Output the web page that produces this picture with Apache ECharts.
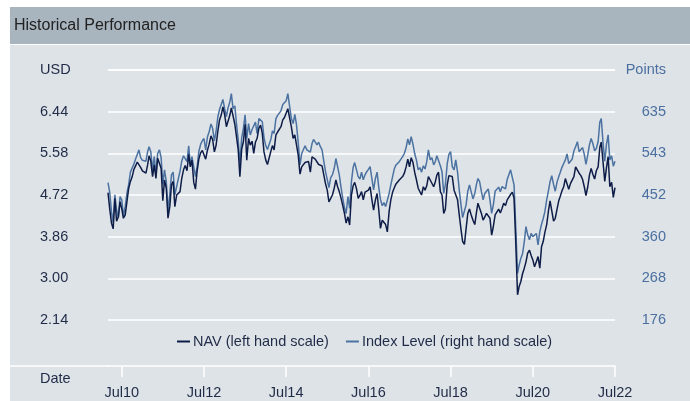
<!DOCTYPE html>
<html><head><meta charset="utf-8">
<script src="https://cdn.jsdelivr.net/npm/echarts@6/dist/echarts.min.js"></script>
<style>html,body{margin:0;padding:0;background:#fff}#c{width:690px;height:401px}</style>
</head><body><div id="c"></div>
<script>
// Semi-monthly observations (1st and 16th of each month) starting March 2010
const startYear = 2010, startMonth = 2; // March (0-based)
const navValues = [
4.77,4.44,4.14,4.02,4.65,4.18,4.27,4.58,4.44,4.24,
4.31,4.58,4.86,5.00,5.09,5.24,5.32,5.40,5.42,5.29,
5.22,5.18,5.17,5.34,5.53,5.42,5.10,5.34,5.06,5.48,
5.46,5.27,4.60,5.03,4.86,4.24,4.48,4.93,5.00,4.48,
4.72,4.72,4.79,5.06,5.24,5.33,5.22,5.56,5.30,5.44,
4.98,4.84,5.22,5.46,5.59,5.64,5.67,5.46,5.65,5.77,
5.94,5.86,5.61,5.74,6.04,6.27,6.37,6.54,6.37,6.13,
6.13,6.37,6.52,6.51,6.18,5.92,5.65,5.10,5.67,5.82,
6.18,5.44,5.89,5.75,5.83,5.58,5.81,5.89,6.10,6.16,
5.99,5.61,5.44,5.35,5.39,5.63,5.74,5.65,5.96,6.02,
6.01,6.13,6.27,6.32,6.36,6.50,6.54,6.13,5.89,5.96,
5.96,5.55,5.15,5.30,5.27,5.39,5.36,5.41,5.19,5.51,
5.53,5.46,5.49,5.35,5.36,5.32,5.13,4.95,4.82,4.58,
4.65,4.72,4.86,5.03,4.89,4.79,4.65,4.50,4.34,4.14,
4.27,4.10,4.72,4.91,4.98,4.86,4.65,4.71,4.79,4.62,
4.78,4.75,4.82,4.89,4.62,4.41,4.62,4.75,4.41,4.03,
4.20,4.16,4.11,3.96,4.38,4.62,4.78,4.87,4.94,4.98,
5.03,5.06,5.10,5.17,5.30,5.46,5.30,5.49,5.39,5.19,
5.03,4.86,4.84,4.72,4.89,4.82,4.91,5.10,5.03,5.03,
4.89,5.00,5.13,5.19,4.79,4.72,4.34,4.43,4.93,5.12,
5.12,5.10,4.82,4.78,4.62,4.31,4.02,3.76,3.70,4.03,
4.34,4.43,4.30,4.20,4.11,4.36,4.55,4.55,4.34,4.20,
4.27,4.34,4.36,4.24,3.89,4.07,4.31,4.35,4.43,4.35,
4.44,4.55,4.50,4.62,4.62,4.73,4.78,4.65,3.69,2.66,
2.83,2.93,3.10,3.21,3.34,3.52,3.58,3.47,3.38,3.24,
3.34,3.45,3.21,3.65,3.76,3.95,4.11,4.38,4.60,4.57,
4.18,4.24,4.43,4.60,4.69,4.80,4.89,5.06,5.03,4.84,
4.96,4.93,5.10,5.30,5.33,5.17,5.12,5.04,4.89,4.71,
4.89,5.13,5.27,5.15,5.05,5.22,5.30,5.70,5.81,5.42,
5.00,5.28,5.51,4.89,4.98,4.67,4.87
];
const indexValues = [
479,458,415,391,452,419,402,448,441,406,
426,455,475,502,504,519,531,541,551,534,
528,525,526,547,558,547,507,536,497,543,
551,534,475,507,481,415,455,496,502,452,
470,488,504,526,538,540,525,560,518,536,
532,492,514,547,563,571,576,551,580,591,
608,598,571,591,624,640,651,662,641,624,
645,657,675,642,648,607,573,521,578,598,
628,576,609,584,596,598,612,587,620,624,
613,578,560,552,554,575,593,587,620,627,
623,637,651,653,659,675,679,620,609,629,
606,568,518,543,547,560,551,553,546,565,
574,576,562,568,558,551,525,503,486,468,
490,496,510,532,532,496,468,444,424,411,
448,422,481,512,523,519,492,487,502,485,
496,503,508,514,487,463,488,502,468,442,
428,435,426,422,455,474,492,509,517,521,
525,529,536,543,556,575,562,580,563,543,
528,507,512,502,516,509,525,551,529,534,
518,526,538,540,516,503,455,475,520,541,
547,514,507,529,502,463,431,402,399,430,
460,474,458,443,455,475,488,481,459,441,
455,460,465,441,411,430,460,463,469,459,
470,474,465,486,486,507,504,474,375,279,
297,312,323,349,382,364,353,367,360,356,
367,342,371,387,400,415,441,460,481,494,
475,460,480,492,501,512,521,529,542,521,
524,531,549,558,569,547,543,556,541,519,
540,562,576,565,549,554,569,612,620,569,
526,563,584,529,538,515,526
];
const xTickDates = ['2010-07-01','2012-07-01','2014-07-01','2016-07-01','2018-07-01','2020-07-01','2022-07-01'];
const xTickLabels = ['Jul10','Jul12','Jul14','Jul16','Jul18','Jul20','Jul22'];
const leftTickLabels = ['2.14','3.00','3.86','4.72','5.58','6.44','USD'];
const rightTickLabels = ['176','268','360','452','543','635','Points'];
const seriesNames = ['NAV (left hand scale)','Index Level (right hand scale)'];

const FONT = '"Liberation Sans", Arial, Helvetica, sans-serif';
const dates = navValues.map((_, i) => Date.UTC(startYear, startMonth + Math.floor(i / 2), i % 2 ? 16 : 1));
const xTickTs = xTickDates.map(d => Date.parse(d + 'T00:00:00Z'));
const L_MIN = 2.14, L_INT = 0.86, R_MIN = 176.4, R_INT = 91.75;

const chart = echarts.init(document.getElementById('c'), null, {renderer: 'canvas'});
chart.setOption({
  animation: false,
  backgroundColor: '#ffffff',
  textStyle: {fontFamily: FONT},
  graphic: [
    {type: 'rect', z: -10, shape: {x: 10, y: 7, width: 680, height: 37}, style: {fill: '#a8b4be'}},
    {type: 'rect', z: -10, shape: {x: 10, y: 45, width: 680, height: 356}, style: {fill: '#dee3e7'}},
    {type: 'text', z: 5, x: 14, y: 26, style: {text: 'Historical Performance', fill: '#222', font: '16px ' + FONT, verticalAlign: 'middle'}},
    {type: 'text', z: 5, x: 40, y: 379, style: {text: 'Date', fill: '#1f2b47', font: '14.5px ' + FONT, verticalAlign: 'middle'}},
    {type: 'line', z: 5, shape: {x1: 10, y1: 366, x2: 109, y2: 366}, style: {stroke: '#ffffff', lineWidth: 1.5}}
  ],
  grid: {left: 108, right: 75, top: 70, bottom: 81},
  legend: {
    left: 177, top: 334, padding: 0, icon: 'rect', itemWidth: 13, itemHeight: 2, itemGap: 17,
    textStyle: {color: '#1f2b47', fontSize: 14.5, fontFamily: FONT, padding: [0, 0, 0, -2]},
    data: seriesNames
  },
  xAxis: {
    type: 'value',
    min: dates[0], max: dates[dates.length - 1],
    offset: 46,
    axisLine: {lineStyle: {color: '#ffffff', width: 1.5}},
    axisTick: {show: true, length: 11, customValues: xTickTs, lineStyle: {color: '#ffffff', width: 1.5}},
    axisLabel: {
      customValues: xTickTs, margin: 19, color: '#1f2b47', fontSize: 14.5, fontFamily: FONT,
      showMinLabel: true, showMaxLabel: true,
      formatter: v => {
        let best = 0;
        xTickTs.forEach((t, i) => { if (Math.abs(t - v) < Math.abs(xTickTs[best] - v)) best = i; });
        return xTickLabels[best];
      }
    },
    splitLine: {show: false}
  },
  yAxis: [
    {
      type: 'value', position: 'left', min: L_MIN, max: L_MIN + 6 * L_INT, interval: L_INT,
      axisLine: {show: false}, axisTick: {show: false},
      axisLabel: {align: 'left', margin: 68, color: '#1f2b47', fontSize: 14.5, fontFamily: FONT,
        formatter: v => leftTickLabels[Math.round((v - L_MIN) / L_INT)]},
      splitLine: {lineStyle: {color: '#ffffff', width: 1.5}}
    },
    {
      type: 'value', position: 'right', min: R_MIN, max: R_MIN + 6 * R_INT, interval: R_INT,
      axisLine: {show: false}, axisTick: {show: false},
      axisLabel: {align: 'right', margin: 51, color: '#4a6fa0', fontSize: 14.5, fontFamily: FONT,
        formatter: v => rightTickLabels[Math.round((v - R_MIN) / R_INT)]},
      splitLine: {show: false}
    }
  ],
  series: [
    {
      name: seriesNames[1], type: 'line', yAxisIndex: 1, showSymbol: false, symbol: 'none',
      color: '#4b72a1', lineStyle: {width: 1.5, color: '#4b72a1'},
      data: indexValues.map((v, i) => [dates[i], v])
    },
    {
      name: seriesNames[0], type: 'line', yAxisIndex: 0, showSymbol: false, symbol: 'none',
      color: '#0e1d48', lineStyle: {width: 1.5, color: '#0e1d48'},
      data: navValues.map((v, i) => [dates[i], v])
    }
  ]
});
</script>
</body></html>
